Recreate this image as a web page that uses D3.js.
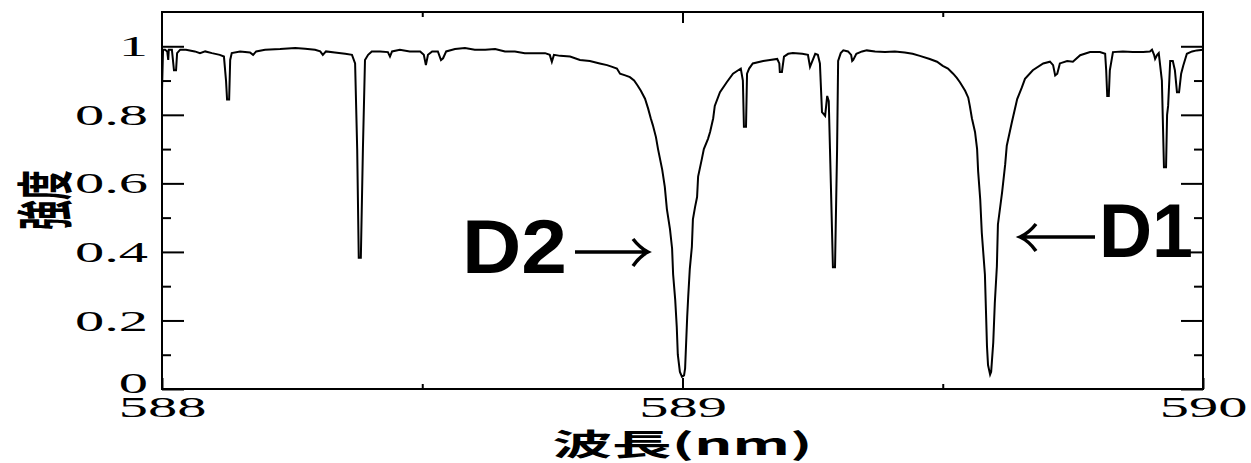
<!DOCTYPE html>
<html>
<head>
<meta charset="utf-8">
<script src="https://cdn.jsdelivr.net/npm/d3@7"></script>
<style>
  body { margin: 0; background: #fff; }
  svg { display: block; }
  .tick line { stroke: #000; stroke-width: 2; }
</style>
</head>
<body>
<div class="chart"></div>
<script>
// Na D lines spectrum, wavelength (nm) vs intensity
const wavelength = [
  588.000, 588.002, 588.006, 588.010, 588.012, 588.013, 588.019, 588.023, 588.027, 588.029,
  588.035, 588.046, 588.063, 588.073, 588.083, 588.096, 588.111, 588.119, 588.123, 588.125,
  588.129, 588.131, 588.134, 588.150, 588.169, 588.175, 588.181, 588.198, 588.227, 588.256,
  588.275, 588.294, 588.304, 588.309, 588.315, 588.332, 588.352, 588.365, 588.371, 588.375,
  588.378, 588.382, 588.386, 588.390, 588.396, 588.403, 588.419, 588.434, 588.438, 588.442,
  588.457, 588.476, 588.496, 588.503, 588.507, 588.511, 588.519, 588.530, 588.536, 588.540,
  588.546, 588.563, 588.582, 588.601, 588.621, 588.640, 588.659, 588.678, 588.697, 588.717,
  588.736, 588.745, 588.749, 588.753, 588.765, 588.784, 588.803, 588.822, 588.841, 588.855,
  588.865, 588.874, 588.880, 588.890, 588.899, 588.907, 588.914, 588.920, 588.928, 588.934,
  588.939, 588.943, 588.949, 588.953, 588.961, 588.966, 588.970, 588.976, 588.980, 588.982,
  588.986, 588.989, 588.991, 588.995, 588.999, 589.003, 589.005, 589.007, 589.009, 589.011,
  589.014, 589.018, 589.020, 589.024, 589.028, 589.030, 589.037, 589.041, 589.049, 589.053,
  589.059, 589.062, 589.072, 589.085, 589.097, 589.107, 589.112, 589.116, 589.118, 589.122,
  589.124, 589.128, 589.135, 589.155, 589.168, 589.182, 589.186, 589.187, 589.191, 589.195,
  589.203, 589.212, 589.230, 589.241, 589.245, 589.249, 589.255, 589.260, 589.264, 589.268,
  589.274, 589.278, 589.281, 589.285, 589.289, 589.293, 589.297, 589.299, 589.304, 589.309,
  589.318, 589.324, 589.326, 589.328, 589.334, 589.345, 589.354, 589.370, 589.389, 589.408,
  589.427, 589.442, 589.456, 589.475, 589.489, 589.500, 589.510, 589.520, 589.527, 589.533,
  589.543, 589.549, 589.552, 589.556, 589.562, 589.566, 589.568, 589.572, 589.575, 589.581,
  589.583, 589.585, 589.587, 589.591, 589.593, 589.597, 589.600, 589.604, 589.606, 589.614,
  589.620, 589.623, 589.633, 589.643, 589.652, 589.658, 589.673, 589.693, 589.706, 589.712,
  589.716, 589.720, 589.725, 589.739, 589.750, 589.764, 589.783, 589.802, 589.812, 589.814,
  589.816, 589.819, 589.821, 589.827, 589.846, 589.865, 589.885, 589.898, 589.902, 589.906,
  589.908, 589.912, 589.915, 589.921, 589.925, 589.929, 589.931, 589.933, 589.937, 589.942,
  589.946, 589.950, 589.954, 589.958, 589.962, 589.969, 589.979, 589.988, 590.000
];
const intensity = [
  0.87, 0.99, 0.99, 0.985, 0.96, 0.99, 0.99, 0.93, 0.93, 0.98,
  0.99, 0.99, 0.985, 0.98, 0.985, 0.98, 0.975, 0.97, 0.9, 0.845,
  0.845, 0.96, 0.98, 0.985, 0.982, 0.975, 0.985, 0.99, 0.992, 0.995,
  0.993, 0.99, 0.985, 0.975, 0.985, 0.982, 0.978, 0.975, 0.95, 0.7,
  0.383, 0.383, 0.7, 0.96, 0.975, 0.985, 0.985, 0.983, 0.97, 0.985,
  0.99, 0.985, 0.985, 0.975, 0.945, 0.975, 0.985, 0.985, 0.96, 0.965,
  0.985, 0.992, 0.995, 0.99, 0.99, 0.992, 0.985, 0.985, 0.98, 0.98,
  0.98, 0.975, 0.955, 0.975, 0.972, 0.97, 0.96, 0.957, 0.95, 0.945,
  0.94, 0.935, 0.92, 0.915, 0.91, 0.9, 0.885, 0.87, 0.847, 0.818,
  0.79, 0.77, 0.735, 0.70, 0.64, 0.59, 0.525, 0.466, 0.41, 0.334,
  0.26, 0.18, 0.10, 0.05, 0.036, 0.04, 0.06, 0.135, 0.21, 0.27,
  0.35, 0.415, 0.495, 0.53, 0.56, 0.62, 0.67, 0.70, 0.73, 0.75,
  0.79, 0.826, 0.866, 0.895, 0.92, 0.93, 0.935, 0.90, 0.765, 0.765,
  0.92, 0.935, 0.95, 0.957, 0.96, 0.963, 0.95, 0.925, 0.925, 0.97,
  0.978, 0.98, 0.978, 0.975, 0.94, 0.955, 0.978, 0.975, 0.95, 0.808,
  0.797, 0.855, 0.84, 0.6, 0.355, 0.355, 0.7, 0.957, 0.98, 0.988,
  0.985, 0.975, 0.957, 0.96, 0.978, 0.985, 0.988, 0.985, 0.983, 0.985,
  0.982, 0.978, 0.972, 0.963, 0.955, 0.943, 0.935, 0.92, 0.908, 0.895,
  0.87, 0.85, 0.826, 0.79, 0.75, 0.70, 0.635, 0.553, 0.456, 0.334,
  0.23, 0.124, 0.07, 0.042, 0.05, 0.135, 0.25, 0.358, 0.48, 0.574,
  0.656, 0.71, 0.78, 0.846, 0.88, 0.905, 0.93, 0.95, 0.955, 0.945,
  0.915, 0.92, 0.95, 0.957, 0.955, 0.974, 0.983, 0.983, 0.978, 0.93,
  0.855, 0.855, 0.93, 0.983, 0.985, 0.983, 0.983, 0.985, 0.99, 0.975,
  0.963, 0.975, 0.98, 0.9, 0.647, 0.647, 0.8, 0.826, 0.957, 0.957,
  0.93, 0.866, 0.866, 0.92, 0.943, 0.978, 0.985, 0.988, 0.99
];
const xMajor = [588, 589, 590];
const xMinor = [588.5, 589.5];
const yMajor = [0, 0.2, 0.4, 0.6, 0.8, 1];
const yMinor = [0.1, 0.3, 0.5, 0.7, 0.9];
const xTitle = '波長(nm)';
const yTitle = '強度';
const peakNames = ['D2', 'D1'];

const W = 1251, H = 463;
const mLeft = 162, mRight = 1203, mTop = 12, mBottom = 389;
const stretch = 1.95;
const serif = '"Liberation Serif", "Times New Roman", serif';

const svg = d3.select('.chart').append('svg').attr('width', W).attr('height', H);

const x = d3.scaleLinear().domain([588, 590]).range([mLeft, mRight]);
const y = d3.scaleLinear().domain([0, 1.1]).range([mBottom, mTop]);

// axes (ticks point inward)
function addAxis(axis, tx, ty, labels) {
  const g = svg.append('g').attr('transform', 'translate(' + tx + ',' + ty + ')').call(axis);
  g.select('.domain').remove();
  if (!labels) { g.selectAll('text').remove(); }
  g.selectAll('text').style('font-family', serif).style('font-size', '30px').attr('fill', '#000');
  return g;
}

const yl = addAxis(d3.axisLeft(y).tickValues(yMajor).tickSize(-22).tickPadding(0).tickFormat(d3.format('')), mLeft, 0, true);
yl.selectAll('text')
  .attr('transform', 'scale(' + stretch + ',1)')
  .attr('x', -14 / stretch)
  .attr('dy', (d) => d === 0 ? '0.12em' : '0.32em');
addAxis(d3.axisLeft(y).tickValues(yMinor).tickSize(-9), mLeft, 0, false);
addAxis(d3.axisRight(y).tickValues(yMajor).tickSize(-22), mRight, 0, false);
addAxis(d3.axisRight(y).tickValues(yMinor).tickSize(-9), mRight, 0, false);

const xb = addAxis(d3.axisBottom(x).tickValues(xMajor).tickSize(-11).tickPadding(0).tickFormat(d3.format('d')), 0, mBottom, true);
xb.selectAll('text')
  .attr('transform', 'scale(' + stretch + ',1)')
  .attr('y', 28)
  .attr('dy', 0);
addAxis(d3.axisBottom(x).tickValues(xMinor).tickSize(-5), 0, mBottom, false);
addAxis(d3.axisTop(x).tickValues([589]).tickSize(-11), 0, mTop, false);
addAxis(d3.axisTop(x).tickValues(xMinor).tickSize(-5), 0, mTop, false);

// frame
svg.append('rect')
  .attr('x', mLeft).attr('y', mTop)
  .attr('width', mRight - mLeft).attr('height', mBottom - mTop)
  .attr('fill', 'none').attr('stroke', '#000').attr('stroke-width', 2);

// spectrum
const pts = wavelength.map((w, i) => [w, intensity[i]]);
const line = d3.line().x((d) => x(d[0])).y((d) => y(d[1]));
svg.append('path')
  .datum(pts)
  .attr('d', line)
  .attr('fill', 'none')
  .attr('stroke', '#000')
  .attr('stroke-width', 2);

// axis titles
svg.append('text')
  .attr('x', (mLeft + mRight) / 2)
  .attr('y', 455)
  .attr('text-anchor', 'middle')
  .attr('textLength', 260)
  .attr('lengthAdjust', 'spacingAndGlyphs')
  .style('font-family', '"Noto Sans CJK JP", sans-serif')
  .style('font-weight', 'bold')
  .style('font-size', '30px')
  .text(xTitle);

svg.append('text')
  .attr('transform', 'translate(41,200) rotate(-90) scale(1,1.9)')
  .attr('text-anchor', 'middle')
  .attr('dominant-baseline', 'central')
  .style('font-family', '"Noto Sans CJK JP", sans-serif')
  .style('font-weight', 'bold')
  .style('font-size', '30px')
  .text(yTitle);

// D2 / D1 labels with arrows
const ann = svg.append('g');
ann.append('text')
  .attr('x', 462).attr('y', 273)
  .attr('textLength', 105).attr('lengthAdjust', 'spacingAndGlyphs')
  .style('font-family', '"Liberation Sans", Arial, sans-serif')
  .style('font-weight', 'bold').style('font-size', '76px')
  .text(peakNames[0]);
ann.append('path')
  .attr('d', 'M575,252 L647,252 M633,239 Q640,248 648,252 Q640,256 633,266')
  .attr('fill', 'none').attr('stroke', '#000').attr('stroke-width', 3.5);

ann.append('text')
  .attr('x', 1099).attr('y', 257)
  .attr('textLength', 94).attr('lengthAdjust', 'spacingAndGlyphs')
  .style('font-family', '"Liberation Sans", Arial, sans-serif')
  .style('font-weight', 'bold').style('font-size', '76px')
  .text(peakNames[1]);
ann.append('path')
  .attr('d', 'M1095,237 L1021,237 M1036,224 Q1029,233 1020,237 Q1029,241 1036,251')
  .attr('fill', 'none').attr('stroke', '#000').attr('stroke-width', 3.5);
</script>
</body>
</html>
